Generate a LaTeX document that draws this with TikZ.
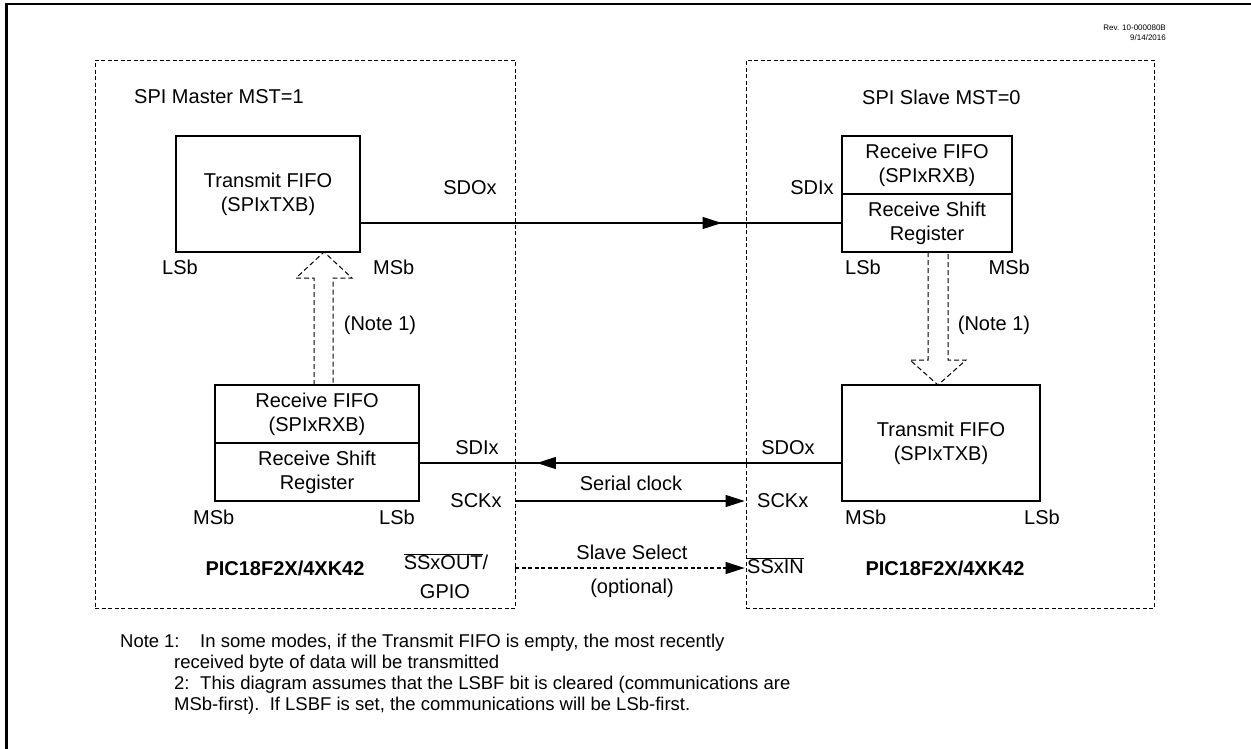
\documentclass[tikz,border=0pt]{standalone}
\usepackage{fontspec}
\setmainfont{Liberation Sans}
\usetikzlibrary{arrows.meta,decorations.markings,calc}
\begin{document}
\begin{tikzpicture}[x=1pt,y=-1pt,
  font=\fontsize{20}{24}\selectfont,
  box/.style={draw, line width=1.2pt, rectangle, inner sep=0pt, align=center},
  lbl/.style={inner sep=0pt},
  dbox/.style={draw, line width=0.8pt, dash pattern=on 4pt off 2.5pt, rectangle, inner sep=0pt},
  conn/.style={line width=1.1pt},
  midtip/.style={postaction={decorate}, decoration={markings, mark=at position #1 with {\arrow{Triangle[length=19pt,width=12pt]}}}},
  hollow/.style={draw, line width=1pt, dash pattern=on 5pt off 3pt},
  note/.style={inner sep=0pt, anchor=base west, font=\fontsize{18.5}{21}\selectfont},
]
\useasboundingbox (0,0) rectangle (1251,748);
% frame
\draw[line width=2.5pt] (6.5,760) -- (6.5,4) -- (1260,4);
% revision
\node[lbl, anchor=base east, font=\fontsize{8}{9}\selectfont, align=right] (rev) at (1166,30) {Rev. 10-000080B};
\node[lbl, anchor=base east, font=\fontsize{8}{9}\selectfont] (date) at (1166,40) {9/14/2016};

% dashed device boxes
\node[dbox, minimum width=420pt, minimum height=548pt] (ldash) at (305,334) {};
\node[dbox, minimum width=408pt, minimum height=548pt] (rdash) at (950,334) {};
\node[lbl, anchor=west] (mtitle) at (134,97) {SPI Master MST=1};
\node[lbl, anchor=west] (stitle) at (862,97) {SPI Slave MST=0};

% boxes
\node[box, minimum width=184pt, minimum height=116pt] (mtx) at (268,194) {Transmit FIFO\\(SPIxTXB)};
\node[box, minimum width=170pt, minimum height=58pt] (srf) at (927,165) {Receive FIFO\\(SPIxRXB)};
\node[box, minimum width=170pt, minimum height=58pt] (srs) at (927,223) {Receive Shift\\Register};
\node[box, minimum width=204pt, minimum height=58pt] (mrf) at (317,414) {Receive FIFO\\(SPIxRXB)};
\node[box, minimum width=204pt, minimum height=58pt] (mrs) at (317,472) {Receive Shift\\Register};
\node[box, minimum width=198pt, minimum height=116pt] (stx) at (941,443) {Transmit FIFO\\(SPIxTXB)};

% bit labels
\node[lbl, anchor=west] (l1) at (162,267) {LSb};
\node[lbl, anchor=west] (m1) at (373,267) {MSb};
\node[lbl, anchor=west] (l2) at (845,267) {LSb};
\node[lbl, anchor=east] (m2) at (1030,267) {MSb};
\node[lbl, anchor=west] (m3) at (193,517) {MSb};
\node[lbl, anchor=east] (l3) at (415,517) {LSb};
\node[lbl, anchor=west] (m4) at (845,517) {MSb};
\node[lbl, anchor=east] (l4) at (1060,517) {LSb};

% pin labels
\node[lbl] (sdo1) at (470,188) {SDOx};
\node[lbl] (sdi1) at (812,188) {SDIx};
\node[lbl] (sdi2) at (477,448) {SDIx};
\node[lbl] (sdo2) at (788,448) {SDOx};
\node[lbl] (sck1) at (476,501) {SCKx};
\node[lbl, anchor=west] (sck2) at (757,501) {SCKx};
\node[lbl] (ser) at (631,483) {Serial clock};
\node[lbl] (ss) at (632,552) {Slave Select};
\node[lbl] (opt) at (632,588) {(optional)};
\node[lbl] (ssout) at (446,562) {$\overline{\mbox{SSxOUT}}$/};
\node[lbl] (gpio) at (445,592) {GPIO};
\node[lbl, anchor=west] (ssin) at (747,566) {$\overline{\mbox{SSxIN}}$};
\node[lbl, font=\fontsize{20}{24}\selectfont\bfseries] (pic1) at (285,568) {PIC18F2X/4XK42};
\node[lbl, font=\fontsize{20}{24}\selectfont\bfseries] (pic2) at (945,568) {PIC18F2X/4XK42};
\node[lbl] (n1a) at (380,325) {(Note 1)};
\node[lbl] (n1b) at (994,325) {(Note 1)};

% connectors
\draw[conn, midtip=0.751] (mtx.east |- srs.west) -- (srs.west);
\coordinate (sdiL) at (419,463);
\draw[conn, midtip=0.721] (stx.west |- sdiL) -- (sdiL);
\coordinate (sckL) at (515,501);
\draw[conn, -{Triangle[length=19pt,width=12pt]}, shorten >=1pt] (sckL) -- (sckL -| rdash.west);
\coordinate (ssL) at (515,568);
\draw[conn, dash pattern=on 4pt off 2.5pt, -{Triangle[length=19pt,width=12pt]}, shorten >=1pt] (ssL) -- (ssL -| rdash.west);

% hollow arrows (Note 1)
\draw[hollow] (314,385) -- (314,278) -- (296,278) -- (324,252) -- (352,278) -- (333,278) -- (333,385);
\draw[hollow] (928,252) -- (928,360) -- (910,360) -- (938,385) -- (966,360) -- (948,360) -- (948,252);

% notes
\node[note] (nt0) at (120,647) {Note};
\node[note] (nt1) at (164,647) {1:};
\node[note] (nt1t) at (200,647) {In some modes, if the Transmit FIFO is empty, the most recently};
\node[note] (nt1u) at (174,668) {received byte of data will be transmitted};
\node[note] (nt2) at (174,689) {2:};
\node[note] (nt2t) at (200,689) {This diagram assumes that the LSBF bit is cleared (communications are};
\node[note] (nt2u) at (174,710) {MSb-first).\ \ If LSBF is set, the communications will be LSb-first.};
\end{tikzpicture}
\end{document}
